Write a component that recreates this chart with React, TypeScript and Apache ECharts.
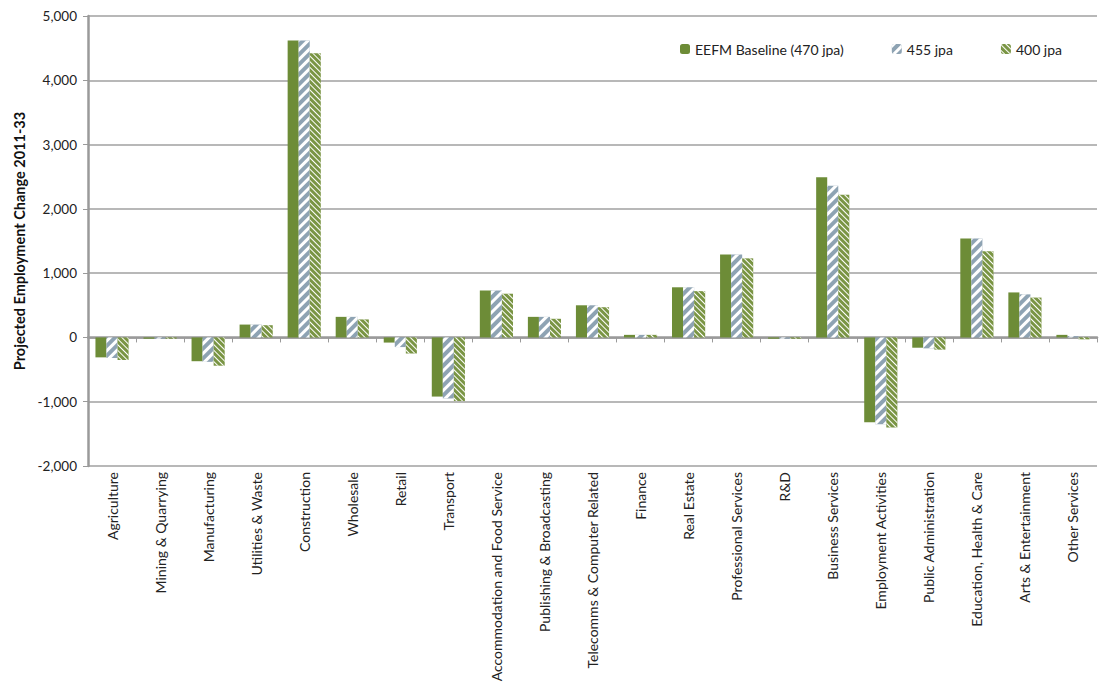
import React, { useEffect, useRef } from "react";
import * as echarts from "echarts";

const categories = [
  "Agriculture",
  "Mining & Quarrying",
  "Manufacturing",
  "Utilities & Waste",
  "Construction",
  "Wholesale",
  "Retail",
  "Transport",
  "Accommodation and Food Service",
  "Publishing & Broadcasting",
  "Telecomms & Computer Related",
  "Finance",
  "Real Estate",
  "Professional Services",
  "R&D",
  "Business Services",
  "Employment Activities",
  "Public Administration",
  "Education, Health & Care",
  "Arts & Entertainment",
  "Other Services",
];

const baseline470 = [-310, -20, -370, 200, 4620, 320, -80, -920, 730, 320, 500, 40, 780, 1290, -20, 2490, -1320, -160, 1540, 700, 40];
const jpa455 = [-320, -20, -380, 200, 4620, 320, -150, -950, 730, 320, 500, 40, 780, 1290, -20, 2360, -1350, -170, 1540, 670, 20];
const jpa400 = [-350, -20, -440, 190, 4420, 280, -250, -990, 680, 290, 470, 40, 720, 1230, -20, 2220, -1400, -190, 1340, 620, -30];

const seriesNames = ["EEFM Baseline (470 jpa)", "455 jpa", "400 jpa"];
const yTicks = { min: -2000, max: 5000, interval: 1000 };

const FONT = "Lato, 'Open Sans', sans-serif";

export default function App() {
  const ref = useRef<HTMLDivElement>(null);

  useEffect(() => {
    if (!ref.current) return;
    const chart = echarts.init(ref.current, undefined, { renderer: "svg" });
    chart.setOption({
      animation: false,
      textStyle: { fontFamily: FONT },
      grid: { left: 88, right: 10, top: 16, bottom: 224, outerBoundsMode: "none", containLabel: false },
      legend: {
        left: 675,
        top: 37,
        itemWidth: 10,
        itemHeight: 10,
        itemGap: 48,
        textStyle: { fontSize: 14, color: "#222", fontFamily: FONT },
        data: seriesNames,
      },
      xAxis: {
        type: "category",
        data: categories,
        axisLine: { onZero: true, lineStyle: { color: "#9a9a9a", width: 2.5 } },
        axisTick: { show: true, length: 5, lineStyle: { color: "#9a9a9a", width: 1 } },
        axisLabel: {
          rotate: 90,
          margin: 6,
          fontSize: 14,
          color: "#222",
          interval: 0,
          fontFamily: FONT,
        },
      },
      yAxis: {
        type: "value",
        min: yTicks.min,
        max: yTicks.max,
        interval: yTicks.interval,
        name: "Projected Employment Change 2011-33",
        nameLocation: "middle",
        nameGap: 61,
        nameTextStyle: { fontSize: 14.5, fontWeight: "bold", color: "#111", fontFamily: FONT },
        axisLine: { show: true, lineStyle: { color: "#9a9a9a", width: 2.5 } },
        axisTick: { show: true, length: 5, lineStyle: { color: "#9a9a9a" } },
        axisLabel: {
          fontSize: 13.5,
          color: "#222",
          margin: 11,
          fontFamily: FONT,
          formatter: (v: number) => v.toLocaleString("en-US"),
        },
        splitLine: { show: true, lineStyle: { color: "#a0a0a0", width: 1.5 } },
      },
      series: [
        {
          name: seriesNames[0],
          type: "bar",
          data: baseline470,
          barGap: "0%",
          barCategoryGap: "31%",
          itemStyle: { color: "#6d8c37" },
        },
        {
          name: seriesNames[1],
          type: "bar",
          data: jpa455,
          barGap: "0%",
          barCategoryGap: "31%",
          itemStyle: {
            color: "#8ea3b3",
            decal: {
              symbol: "rect",
              symbolSize: 1,
              color: "#ffffff",
              dashArrayX: [1, 0],
              dashArrayY: [3, 4],
              rotation: -Math.PI / 4,
            },
          },
        },
        {
          name: seriesNames[2],
          type: "bar",
          data: jpa400,
          barGap: "0%",
          barCategoryGap: "31%",
          itemStyle: {
            color: "#7a9544",
            decal: {
              symbol: "rect",
              symbolSize: 1,
              color: "#ffffff",
              dashArrayX: [1, 0],
              dashArrayY: [1, 3],
              rotation: Math.PI / 4,
            },
          },
        },
      ],
    });
    return () => chart.dispose();
  }, []);

  return <div ref={ref} style={{ width: 1107, height: 690, position: "absolute", left: 0, top: 0 }} />;
}
